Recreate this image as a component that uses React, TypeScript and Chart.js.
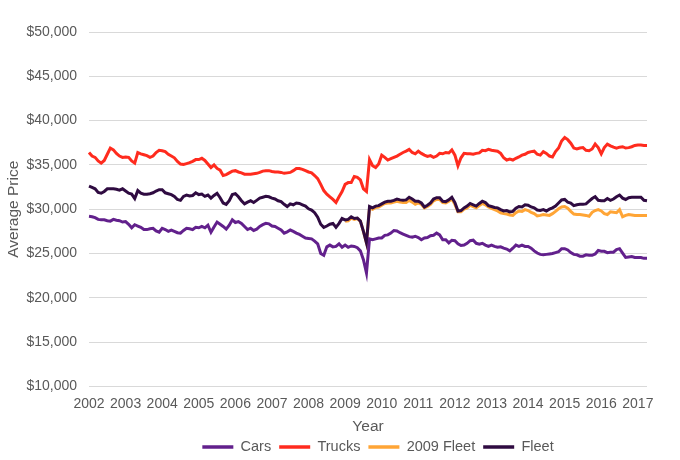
import { useEffect, useRef } from 'react'
import { Chart, registerables } from 'chart.js'

Chart.register(...registerables)

const FONT = "'Liberation Sans', Arial, sans-serif"
const TEXT_COLOR = '#595959'
const GRID_COLOR = '#d9d9d9'

const FIRST_YEAR = 2002
const LAST_YEAR = 2017

// monthly averages, Jan 2002 .. Apr 2017
const CARS = [
  29200, 29150, 29050, 28850, 28800, 28800, 28700, 28650, 28850, 28750, 28700, 28550, // 2002
  28600, 28300, 27900, 28250, 28100, 27950, 27700, 27700, 27800, 27850, 27550, 27400, // 2003
  27850, 27700, 27500, 27650, 27500, 27350, 27300, 27600, 27850, 27800, 27700, 27950, // 2004
  27900, 28050, 27900, 28200, 27400, 28000, 28550, 28300, 28050, 27750, 28200, 28800, // 2005
  28500, 28600, 28400, 28050, 27700, 27850, 27600, 27750, 28050, 28250, 28400, 28350, // 2006
  28100, 28050, 27850, 27650, 27300, 27450, 27650, 27500, 27300, 27150, 26950, 26750, // 2007
  26700, 26650, 26400, 26100, 25000, 24800, 25750, 25950, 25750, 25800, 26100, 25700, // 2008
  25950, 25700, 25850, 25800, 25650, 25300, 24300, 22800, 26650, 26550, 26650, 26750, // 2009
  26750, 27050, 27100, 27300, 27600, 27550, 27350, 27200, 27050, 26900, 26850, 26950, // 2010
  26800, 26550, 26750, 26800, 27000, 27050, 27300, 27100, 26550, 26550, 26200, 26500, // 2011
  26450, 26100, 25900, 25950, 26150, 26450, 26500, 26150, 26050, 26150, 25950, 25800, // 2012
  25950, 25800, 25700, 25750, 25600, 25500, 25300, 25600, 25950, 25800, 25950, 25800, // 2013
  25800, 25600, 25300, 25050, 24900, 24850, 24900, 24950, 25000, 25100, 25200, 25550, // 2014
  25550, 25400, 25100, 24900, 24850, 24700, 24700, 24850, 24800, 24800, 24950, 25350, // 2015
  25250, 25250, 25100, 25150, 25150, 25450, 25550, 25050, 24550, 24600, 24650, 24550, // 2016
  24550, 24550, 24450, 24450, // 2017
]

const TRUCKS = [
  36400, 36000, 35850, 35450, 35200, 35500, 36200, 36900, 36700, 36300, 36000, 35850, // 2002
  35900, 35850, 35450, 35200, 36400, 36250, 36150, 36050, 35850, 36000, 36400, 36650, // 2003
  36600, 36500, 36200, 36000, 35800, 35400, 35100, 35050, 35150, 35250, 35400, 35600, // 2004
  35600, 35750, 35500, 35100, 34700, 35000, 34600, 34400, 33800, 33900, 34100, 34300, // 2005
  34350, 34200, 34100, 33950, 33950, 33950, 34000, 34050, 34150, 34300, 34350, 34350, // 2006
  34250, 34200, 34200, 34150, 34050, 34100, 34150, 34350, 34600, 34600, 34500, 34350, // 2007
  34200, 34100, 33800, 33450, 32800, 32100, 31700, 31400, 31100, 30750, 31400, 32000, // 2008
  32800, 33000, 33000, 33700, 33600, 33300, 32300, 32000, 35600, 34900, 34700, 35100, // 2009
  36100, 35850, 35550, 35700, 35850, 36000, 36200, 36400, 36550, 36750, 36400, 36250, // 2010
  36550, 36300, 36100, 35950, 36050, 35850, 36000, 36300, 36250, 36400, 36350, 36700, // 2011
  36100, 34900, 35800, 36300, 36250, 36250, 36200, 36300, 36350, 36650, 36600, 36750, // 2012
  36650, 36600, 36550, 36300, 35800, 35550, 35650, 35550, 35750, 35900, 36100, 36200, // 2013
  36400, 36500, 36550, 36200, 36100, 36500, 36300, 36000, 35900, 36500, 36900, 37700, // 2014
  38100, 37850, 37450, 36900, 36800, 36900, 36950, 36650, 36600, 36800, 37350, 36950, // 2015
  36250, 36950, 37350, 37150, 37000, 36900, 37000, 37050, 36900, 36950, 37050, 37200, // 2016
  37250, 37250, 37200, 37200, // 2017
]

// fleet reweighted to the 2009 mix, only from 2009 on
const FLEET_2009 = [
  ...Array(84).fill(null),
  28650, 28700, 29000, 28850, 28950, 28650, 27500, 26200, 30150, 30000, 30200, 30250, // 2009
  30450, 30650, 30700, 30700, 30800, 30900, 30800, 30750, 30750, 31000, 30800, 30550, // 2010
  30700, 30550, 30150, 30300, 30550, 30950, 31100, 31100, 30750, 30700, 30900, 31150, // 2011
  30550, 29700, 29700, 30000, 30150, 30450, 30300, 30150, 30400, 30650, 30500, 30250, // 2012
  30100, 29950, 29800, 29600, 29500, 29450, 29350, 29300, 29600, 29800, 29750, 29950, // 2013
  29850, 29650, 29500, 29250, 29300, 29400, 29350, 29300, 29500, 29750, 30050, 30250, // 2014
  30300, 30100, 29750, 29450, 29400, 29400, 29350, 29300, 29200, 29650, 29850, 29950, // 2015
  29800, 29500, 29400, 29700, 29650, 29600, 29950, 29150, 29300, 29400, 29350, 29300, // 2016
  29300, 29300, 29300, 29300, // 2017
]

const FLEET = [
  32600, 32450, 32300, 31900, 31800, 32000, 32300, 32300, 32300, 32250, 32150, 32300, // 2002
  32050, 31800, 31700, 31200, 32100, 31800, 31700, 31700, 31750, 31850, 32050, 32200, // 2003
  32200, 31850, 31750, 31650, 31450, 31100, 31000, 31450, 31600, 31500, 31550, 31850, // 2004
  31650, 31700, 31450, 31600, 31250, 31550, 31800, 31300, 30700, 30550, 30950, 31650, // 2005
  31750, 31400, 30950, 30600, 30800, 30950, 30750, 31000, 31250, 31350, 31450, 31400, // 2006
  31250, 31150, 30950, 30850, 30550, 30300, 30600, 30500, 30700, 30650, 30500, 30350, // 2007
  30050, 29900, 29600, 29100, 28300, 27950, 28100, 28300, 28400, 27950, 28400, 28950, // 2008
  28800, 28850, 29150, 28950, 29000, 28650, 27500, 26200, 30300, 30150, 30350, 30400, // 2009
  30600, 30800, 30900, 30900, 31000, 31150, 31050, 31000, 31050, 31350, 31150, 30900, // 2010
  30900, 30700, 30250, 30450, 30700, 31150, 31300, 31300, 30900, 30850, 31050, 31350, // 2011
  30750, 29800, 29850, 30150, 30350, 30650, 30500, 30350, 30650, 30900, 30750, 30400, // 2012
  30300, 30200, 30150, 29950, 29800, 29850, 29700, 29750, 30100, 30300, 30250, 30500, // 2013
  30450, 30250, 30150, 29900, 29850, 29950, 29800, 30000, 30150, 30350, 30700, 31050, // 2014
  31100, 30800, 30700, 30400, 30500, 30550, 30550, 30600, 30900, 31200, 31400, 31000, // 2015
  30950, 30950, 31200, 31000, 31150, 31400, 31600, 31250, 31100, 31300, 31350, 31350, // 2016
  31350, 31350, 31000, 30950, // 2017
]

const MONTH_NAMES = ['Jan', 'Feb', 'Mar', 'Apr', 'May', 'Jun', 'Jul', 'Aug', 'Sep', 'Oct', 'Nov', 'Dec']

const MONTHS: string[] = []
for (let y = FIRST_YEAR; y <= LAST_YEAR; y++) {
  for (const m of MONTH_NAMES) MONTHS.push(`${m} ${y}`)
}
const LABELS = MONTHS.slice(0, CARS.length)

const SERIES = [
  { label: 'Cars', data: CARS, color: '#62208c', order: 0 },
  { label: 'Trucks', data: TRUCKS, color: '#ff2b1e', order: 0 },
  { label: '2009 Fleet', data: FLEET_2009, color: '#ffa536', order: 2 },
  { label: 'Fleet', data: FLEET, color: '#2f0b41', order: 1 },
]

// put the legend where the original has it, below the axis title
const legendPlacer = {
  id: 'legendPlacer',
  afterLayout(chart: Chart) {
    const legend = chart.legend as any
    if (!legend) return
    const pad = legend.options.labels.padding
    const size = legend.options.labels.font.size
    const dy = 447 - (legend.top + pad + size / 2)
    const dx = 378 - (legend.left + legend.right) / 2
    legend.top += dy
    legend.bottom += dy
    legend.left += dx
    legend.right += dx
  },
}

export default function App() {
  const canvasRef = useRef<HTMLCanvasElement>(null)

  useEffect(() => {
    if (!canvasRef.current) return
    Chart.defaults.font.family = FONT
    Chart.defaults.color = TEXT_COLOR

    const chart = new Chart(canvasRef.current, {
      type: 'line',
      data: {
        labels: LABELS,
        datasets: SERIES.map((s) => ({
          label: s.label,
          data: s.data,
          borderColor: s.color,
          backgroundColor: s.color,
          borderWidth: 3,
          pointRadius: 0,
          fill: false,
          tension: 0,
          order: s.order,
        })),
      },
      plugins: [legendPlacer],
      options: {
        responsive: true,
        maintainAspectRatio: false,
        animation: false,
        layout: { padding: { left: 0, right: 33, top: 32, bottom: -8.5 } },
        plugins: {
          legend: {
            position: 'bottom',
            labels: {
              boxWidth: 31,
              boxHeight: 3.5,
              padding: 8,
              color: TEXT_COLOR,
              font: { size: 14.5 },
              sort: (a, b) => a.datasetIndex! - b.datasetIndex!,
              generateLabels: (c) =>
                Chart.defaults.plugins.legend.labels.generateLabels(c).map((item) => ({
                  ...item,
                  lineWidth: 0,
                })),
            },
          },
          tooltip: { enabled: false },
        },
        scales: {
          x: {
            afterFit: (scale) => {
              scale.height = 49.6
            },
            grid: { display: false, drawTicks: false },
            border: { display: false },
            ticks: {
              autoSkip: false,
              maxRotation: 0,
              minRotation: 0,
              padding: 9,
              font: { size: 14 },
              color: TEXT_COLOR,
              callback: function (value) {
                const label = this.getLabelForValue(value as number)
                return label.startsWith('Jan') ? label.slice(4) : ''
              },
            },
            title: {
              display: true,
              text: 'Year',
              color: TEXT_COLOR,
              font: { size: 15.5 },
              padding: { top: 0, bottom: 0 },
            },
          },
          y: {
            min: 10000,
            max: 50000,
            afterFit: (scale) => {
              scale.width = 89
            },
            grid: { color: GRID_COLOR, lineWidth: 1, drawTicks: false },
            border: { display: false },
            ticks: {
              stepSize: 5000,
              padding: 12,
              font: { size: 14 },
              color: TEXT_COLOR,
              callback: (v) => '$' + Number(v).toLocaleString('en-US'),
            },
            title: {
              display: true,
              text: 'Average Price',
              color: TEXT_COLOR,
              font: { size: 15.5 },
              padding: { top: 4, bottom: 0 },
            },
          },
        },
      },
    })

    return () => {
      chart.destroy()
    }
  }, [])

  return (
    <div style={{ position: 'fixed', left: 0, top: 0, width: 680, height: 460, background: '#fff' }}>
      <canvas ref={canvasRef} />
    </div>
  )
}
